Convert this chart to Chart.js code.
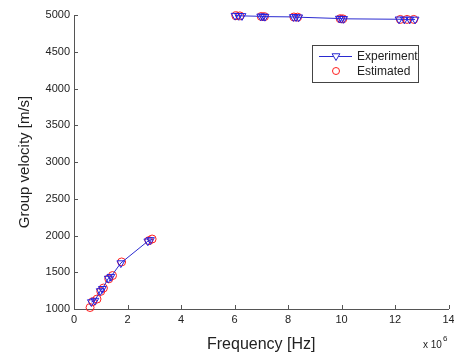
<!DOCTYPE html>
<html>
<head>
<meta charset="utf-8">
<script src="https://cdn.jsdelivr.net/npm/chart.js@4.4.1/dist/chart.umd.min.js"></script>
<style>
  html, body { margin: 0; padding: 0; background: #fff; }
  #wrap { width: 454px; height: 358px; }
</style>
</head>
<body>
<div id="wrap"><canvas id="myChart" width="454" height="358"></canvas></div>
<script>
// frequency in units of 1e6 Hz, velocity in m/s
const lowFreqExp = [0.65, 0.78, 0.98, 1.06, 1.28, 1.38, 1.75, 2.76, 2.86];
const lowVelExp  = [1095, 1115, 1245, 1275, 1415, 1440, 1625, 1922, 1940];
const highFreqExp = [6.02, 6.15, 6.28, 6.98, 7.06, 7.14, 8.2, 8.3, 8.4, 9.92, 10.0, 10.08, 12.15, 12.35, 12.55, 12.75];
const highVelExp  = [4992, 4990, 4988, 4982, 4980, 4978, 4974, 4972, 4970, 4952, 4950, 4948, 4942, 4940, 4940, 4940];

const freqEst = [0.6, 0.7, 0.86, 1.0, 1.1, 1.3, 1.44, 1.78, 2.8, 2.92, 6.05, 6.2, 7.0, 7.12, 8.22, 8.36, 9.95, 10.05, 12.2, 12.45, 12.7];
const velEst  = [1020, 1100, 1135, 1240, 1285, 1410, 1455, 1640, 1930, 1952, 4990, 4988, 4980, 4978, 4973, 4971, 4950, 4948, 4940, 4940, 4940];

const xTicks = [0, 2, 4, 6, 8, 10, 12, 14];
const yTicks = [1000, 1500, 2000, 2500, 3000, 3500, 4000, 4500, 5000];

const expPoints = lowFreqExp.map((f, i) => ({x: f, y: lowVelExp[i]}))
    .concat([{x: 4.5, y: null}])
    .concat(highFreqExp.map((f, i) => ({x: f, y: highVelExp[i]})));
const estPoints = freqEst.map((f, i) => ({x: f, y: velEst[i]}));

const axisColor = '#555';
const tickFont = {family: 'Liberation Sans', size: 11};

const matlabAxes = {
    id: 'matlab_axes',
    afterDraw: (chart) => {
        const ctx = chart.ctx;
        const xs = chart.scales.x;
        const ys = chart.scales.y;
        const area = chart.chartArea;
        ctx.save();
        ctx.strokeStyle = axisColor;
        ctx.lineWidth = 1;
        ctx.beginPath();
        xTicks.forEach(t => {
            const px = Math.round(xs.getPixelForValue(t)) + 0.5;
            ctx.moveTo(px, area.bottom);
            ctx.lineTo(px, area.bottom - 4);
        });
        yTicks.forEach(t => {
            const py = Math.round(ys.getPixelForValue(t)) + 0.5;
            ctx.moveTo(area.left, py);
            ctx.lineTo(area.left + 4, py);
        });
        ctx.stroke();

        // x 10^6 multiplier
        ctx.fillStyle = '#222';
        ctx.font = '10px "Liberation Sans"';
        ctx.textBaseline = 'alphabetic';
        ctx.textAlign = 'left';
        ctx.fillText('x 10', 423, 348);
        ctx.font = '8px "Liberation Sans"';
        ctx.fillText('6', 443, 341);

        // legend box
        const lx = 312, ly = 45, lw = 106, lh = 37;
        ctx.fillStyle = '#fff';
        ctx.fillRect(lx, ly, lw, lh);
        ctx.strokeStyle = '#444';
        ctx.strokeRect(lx + 0.5, ly + 0.5, lw, lh);
        const ds = chart.data.datasets;
        const row1 = ly + 11, row2 = ly + 26;
        ctx.strokeStyle = ds[0].borderColor;
        ctx.beginPath();
        ctx.moveTo(lx + 7, row1 + 0.5);
        ctx.lineTo(lx + 40, row1 + 0.5);
        ctx.stroke();
        Chart.helpers.drawPoint(ctx, {pointStyle: 'triangle', rotation: 180, radius: 4.5, borderWidth: 1}, lx + 24, row1);
        ctx.strokeStyle = ds[1].borderColor;
        Chart.helpers.drawPoint(ctx, {pointStyle: 'circle', radius: 3.5, borderWidth: 1}, lx + 24, row2);
        ctx.fillStyle = '#222';
        ctx.font = '12px "Liberation Sans"';
        ctx.textBaseline = 'middle';
        ctx.fillText(ds[0].label, lx + 45, row1 + 1);
        ctx.fillText(ds[1].label, lx + 45, row2 + 1);
        ctx.restore();
    }
};

const ctx = document.getElementById('myChart').getContext('2d');

const myChart = new Chart(ctx, {
    type: 'scatter',
    plugins: [matlabAxes],
    data: {
        datasets: [{
            label: 'Experiment',
            data: expPoints,
            showLine: true,
            spanGaps: false,
            borderColor: '#2a2ad0',
            borderWidth: 1,
            backgroundColor: 'rgba(0,0,0,0)',
            pointStyle: 'triangle',
            rotation: 180,
            pointRadius: 4.5,
            pointBorderWidth: 1,
            pointBorderColor: '#2020e0',
            clip: false
        }, {
            label: 'Estimated',
            data: estPoints,
            showLine: false,
            borderColor: '#ff2020',
            backgroundColor: 'rgba(0,0,0,0)',
            pointStyle: 'circle',
            pointRadius: 4,
            pointBorderWidth: 1,
            pointBorderColor: '#ff2020',
            clip: false
        }]
    },
    options: {
        responsive: false,
        animation: false,
        layout: {padding: {top: 15, right: 4, left: 0, bottom: 0}},
        plugins: {legend: {display: false}, tooltip: {enabled: false}},
        scales: {
            x: {
                type: 'linear',
                min: 0,
                max: 14,
                afterBuildTicks: (scale) => { scale.ticks = xTicks.map(v => ({value: v})); },
                afterFit: (scale) => { scale.height = 49; scale.paddingRight = 0; scale.paddingLeft = 0; },
                grid: {drawOnChartArea: false, drawTicks: false},
                border: {display: true, color: axisColor, width: 1},
                ticks: {color: '#222', font: tickFont, padding: 4, maxRotation: 0,
                        callback: (v) => String(v)},
                title: {display: true, text: 'Frequency [Hz]', color: '#222',
                        font: {family: 'Liberation Sans', size: 16}, padding: {top: 7}}
            },
            y: {
                type: 'linear',
                min: 1000,
                max: 5000,
                afterBuildTicks: (scale) => { scale.ticks = yTicks.map(v => ({value: v})); },
                afterFit: (scale) => { scale.width = 74; scale.paddingTop = 0; scale.paddingBottom = 0; },
                grid: {drawOnChartArea: false, drawTicks: false},
                border: {display: true, color: axisColor, width: 1},
                ticks: {color: '#222', font: tickFont, padding: 4,
                        callback: (v) => String(v)},
                title: {display: true, text: 'Group velocity [m/s]', color: '#222',
                        font: {family: 'Liberation Sans', size: 15}, padding: {top: 16, bottom: 4}}
            }
        }
    }
});
</script>
</body>
</html>
